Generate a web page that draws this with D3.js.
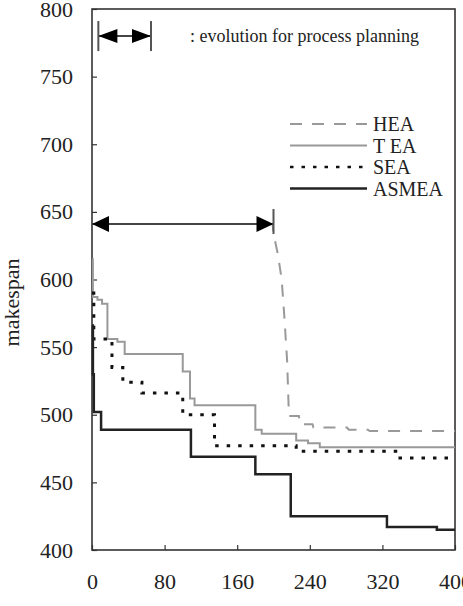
<!DOCTYPE html>
<html><head><meta charset="utf-8">
<script src="https://cdn.jsdelivr.net/npm/d3@7"></script>
<style>body{margin:0;background:#fff}svg{display:block}</style>
</head><body>
<svg id="chart" width="463" height="606"></svg>
<script>
// ---- data ----
const xTicks = [0, 80, 160, 240, 320, 400];
const yTicks = [400, 450, 500, 550, 600, 650, 700, 750, 800];
const seriesNames = ["HEA", "T EA", "SEA", "ASMEA"];
// [generation, makespan]
const heaValues = [[0,641],[199,641],[200,634],[205,618],[209,600],[212,572],[215,540],[216,520],[217,499],[228,499],[229,493],[243,493],[244,490.5],[281,490.5],[283,489],[304,489],[306,488],[400,488]];
const teaValues = [[0,615],[1,587],[6,585],[11,582],[17,556],[28,554],[36,545],[100,532],[108,512],[113,507],[180,489],[187,486],[225,481],[238,479],[251,476],[400,476]];
const seaValues = [[0,590],[2,556],[22,535],[34,524],[55,516],[100,500],[135,477],[225,473],[337,468],[400,468]];
const asmeaValues = [[0,566],[1,530],[2,502],[10,489],[109,469],[180,456],[219,425],[325,417],[380,415],[400,415]];
const planningArrow = [0, 200, 641];      // from gen, to gen, makespan
const keyArrow = [7, 65, 780];
const keyText = ": evolution for process planning";
const yTitle = "makespan";

// ---- layout ----
const svg = d3.select("#chart");
const m = {left: 92, top: 9, right: 8, bottom: 56};
const W = 463 - m.left - m.right, H = 606 - m.top - m.bottom;
const g = svg.append("g").attr("transform", `translate(${m.left},${m.top})`);
const x = d3.scaleLinear().domain([0, 400]).range([0, W]);
const y = d3.scaleLinear().domain([400, 800]).range([H, 0]);
const font = "'Liberation Serif','Times New Roman',serif";
const axisCol = "#333";

// axes
const yAxis = g.append("g").call(d3.axisLeft(y).tickValues(yTicks).tickSize(-5).tickPadding(19).tickSizeOuter(0));
const xAxis = g.append("g").attr("transform", `translate(0,${H})`)
  .call(d3.axisBottom(x).tickValues(xTicks).tickSize(-5).tickPadding(23).tickSizeOuter(0));
[yAxis, xAxis].forEach(a => {
  a.attr("font-family", font).attr("font-size", 22);
  a.select(".domain").remove();
  a.selectAll("line").attr("stroke", axisCol).attr("stroke-width", 1.2);
  a.selectAll("text").attr("font-family", font).attr("font-size", 22).attr("fill", "#222");
});
g.append("rect").attr("x", 0).attr("y", 0).attr("width", W).attr("height", H)
  .attr("fill", "none").attr("stroke", axisCol).attr("stroke-width", 1.6);

svg.append("text").attr("transform", `translate(19,${m.top + y(583)}) rotate(-90)`)
  .attr("text-anchor", "middle").attr("font-family", font).attr("font-size", 22).attr("fill", "#222")
  .text(yTitle);

// lines
const stepLine = d3.line().x(d => x(d[0])).y(d => y(d[1])).curve(d3.curveStepAfter);
const linLine = d3.line().x(d => x(d[0])).y(d => y(d[1]));
const styles = [
  {vals: heaValues, gen: linLine, stroke: "#999", w: 2, dash: "12,10"},
  {vals: teaValues, gen: stepLine, stroke: "#999", w: 2, dash: null},
  {vals: seaValues, gen: stepLine, stroke: "#111", w: 3, dash: "3.5,8"},
  {vals: asmeaValues, gen: stepLine, stroke: "#222", w: 2.5, dash: null}
];
styles.forEach(s => {
  g.append("path").attr("d", s.gen(s.vals)).attr("fill", "none")
    .attr("stroke", s.stroke).attr("stroke-width", s.w)
    .attr("stroke-dasharray", s.dash);
});

// arrows
function dblArrow(x0, x1, yy, half, hl, bar) {
  g.append("line").attr("x1", x0).attr("x2", x1).attr("y1", yy).attr("y2", yy)
    .attr("stroke", "#444").attr("stroke-width", 2);
  g.append("path").attr("d", `M${x0},${yy}L${x0+hl},${yy-half}L${x0+hl},${yy+half}Z`).attr("fill", "#000");
  g.append("path").attr("d", `M${x1},${yy}L${x1-hl},${yy-half}L${x1-hl},${yy+half}Z`).attr("fill", "#000");
  bar.forEach(b => g.append("line").attr("x1", b[0]).attr("x2", b[0]).attr("y1", yy - b[1]).attr("y2", yy + b[2])
    .attr("stroke", "#555").attr("stroke-width", 2));
}
dblArrow(x(planningArrow[0]), x(planningArrow[1]), y(planningArrow[2]), 8, 17, [[x(planningArrow[1]), 15, 10]]);
dblArrow(x(keyArrow[0]), x(keyArrow[1]), y(keyArrow[2]), 7, 19, [[x(keyArrow[0]), 15, 15], [x(keyArrow[1]), 15, 15]]);
g.append("text").attr("x", 98).attr("y", y(keyArrow[2]) + 6).attr("font-family", font).attr("font-size", 18)
  .attr("fill", "#222").text(keyText);

// legend
const leg = g.append("g").attr("transform", "translate(198,115)");
styles.forEach((s, i) => {
  const yy = i * 21.5;
  leg.append("line").attr("x1", 0).attr("x2", 77).attr("y1", yy).attr("y2", yy)
    .attr("stroke", s.stroke).attr("stroke-width", s.w === 3 ? 2.5 : s.w).attr("stroke-dasharray", s.dash);
  leg.append("text").attr("x", 83).attr("y", yy + 7).attr("font-family", font).attr("font-size", 20)
    .attr("fill", "#222").text(seriesNames[i]);
});
</script>
</body></html>
